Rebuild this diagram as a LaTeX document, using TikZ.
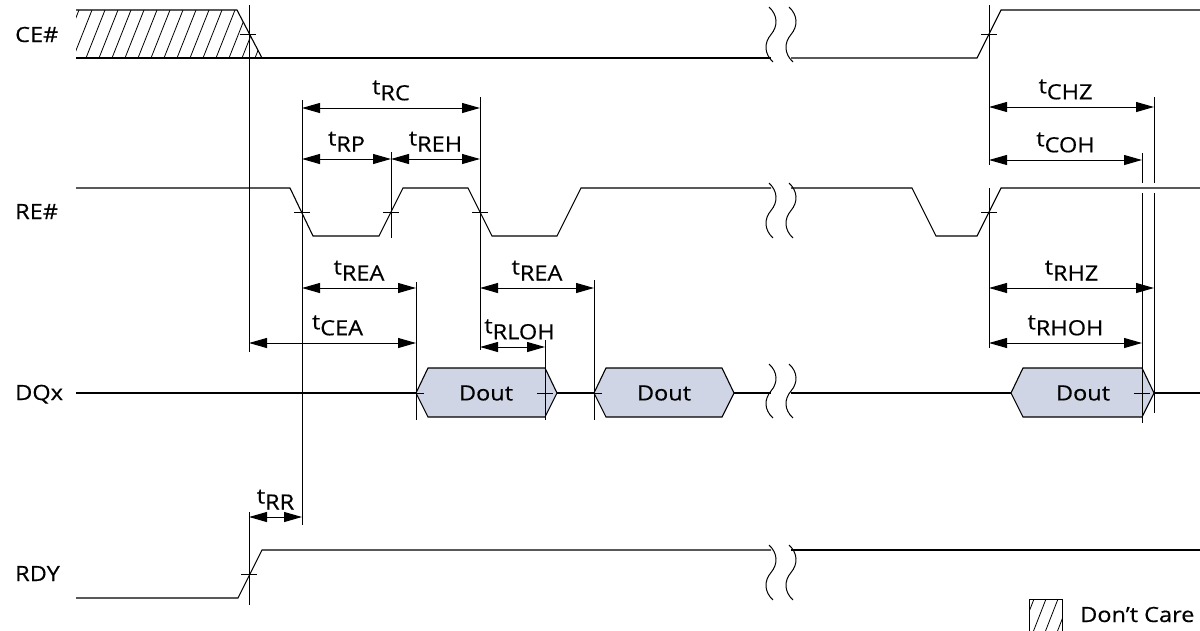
\documentclass[tikz,border=0pt]{standalone}
\usepackage{fontspec}
\setmainfont{Open Sans}[FakeStretch=1.12, FakeBold=0.4]
\usetikzlibrary{arrows.meta}

\definecolor{doutfill}{RGB}{208,213,229}

% Zeit-Bezeichner mit tiefgestelltem Index
\newcommand{\tsub}[1]{t\raisebox{-6pt}{#1}}
% Unterbrechung (zwei Wellenlinien) zwischen oben #1 und unten #2
\newcommand{\wavebreak}[2]{%
  \foreach \bx in {771,791} {%
    \draw [vline] ( \bx-2, #1 ) .. controls ( \bx+7, {#1+0.15*(#2-#1)} ) and ( \bx+7, {#1+0.35*(#2-#1)} ) .. ( \bx, {(#1+#2)/2} )
      .. controls ( \bx-7, {#1+0.65*(#2-#1)} ) and ( \bx-7, {#1+0.85*(#2-#1)} ) .. ( \bx+2, #2 );
  }}

\tikzset{
  sig/.style={line width=1.1pt, line join=miter},
  vline/.style={line width=1pt},
  hatch/.style={line width=0.8pt},
  dim/.style={line width=1pt, {Triangle[length=18pt,width=10pt]}-{Triangle[length=18pt,width=10pt]}},
  tlab/.style={above=7pt, inner sep=0pt, font=\fontsize{21}{23}\selectfont},
  siglab/.style={anchor=base west, inner sep=0pt, font=\fontsize{21}{23}\selectfont},
  dout/.style={sig, fill=doutfill},
  doutlab/.style={inner sep=0pt, font=\fontsize{21}{23}\selectfont}
}

\begin{document}
\begin{tikzpicture}[x=1pt, y=-1pt]
\useasboundingbox ( 0, 0 ) rectangle ( 1200, 630 );

% Signalnamen
\node [siglab] (ce) at ( 15, 42 ) {CE\#};
\node [siglab] (re) at ( 15, 219 ) {RE\#};
\node [siglab] (dq) at ( 15, 400 ) {DQx};
\node [siglab] (rdy) at ( 15, 581 ) {RDY};

% CE# mit Don't-Care-Bereich
\begin{scope}
  \clip ( 76, 10 ) -- ( 237, 10 ) -- ( 262, 58 ) -- ( 76, 58 ) -- cycle;
  \foreach \h in {60,73,...,275}
    \draw [hatch] ( \h, 58 ) -- ( \h+19, 10 );
\end{scope}
\draw [sig] ( 76, 10 ) -- ( 237, 10 ) -- ( 262, 58 );
\draw [sig] ( 76, 58 ) -- ( 771, 58 );
\draw [sig] ( 791, 58 ) -- ( 977, 58 ) -- ( 1001, 10 ) -- ( 1200, 10 );
\wavebreak{7}{62}

% RE#
\draw [sig] ( 76, 188 ) -- ( 290, 188 ) -- ( 313, 236 ) -- ( 379, 236 ) -- ( 403, 188 ) -- ( 468, 188 )
  -- ( 492, 236 ) -- ( 557, 236 ) -- ( 581, 188 ) -- ( 771, 188 );
\draw [sig] ( 791, 188 ) -- ( 912, 188 ) -- ( 936, 236 ) -- ( 977, 236 ) -- ( 1001, 188 ) -- ( 1200, 188 );
\wavebreak{183}{238}

% DQx
\draw [dout] ( 416, 393 ) -- ( 428, 368 ) -- ( 545, 368 ) -- ( 557, 393 ) -- ( 545, 417 ) -- ( 428, 417 ) -- cycle;
\draw [dout] ( 594, 393 ) -- ( 606, 368 ) -- ( 722, 368 ) -- ( 734, 393 ) -- ( 722, 417 ) -- ( 606, 417 ) -- cycle;
\draw [dout] ( 1011, 393 ) -- ( 1023, 368 ) -- ( 1142, 368 ) -- ( 1154, 393 ) -- ( 1142, 417 ) -- ( 1023, 417 ) -- cycle;
\node [doutlab] (dout1) at ( 486, 393 ) {Dout};
\node [doutlab] (dout2) at ( 664, 393 ) {Dout};
\node [doutlab] (dout3) at ( 1083, 393 ) {Dout};
\draw [sig] ( 76, 393 ) -- ( 416, 393 );
\draw [sig] ( 557, 393 ) -- ( 594, 393 );
\draw [sig] ( 734, 393 ) -- ( 771, 393 );
\draw [sig] ( 791, 393 ) -- ( 1011, 393 );
\draw [sig] ( 1154, 393 ) -- ( 1200, 393 );
\wavebreak{364}{418}

% RDY
\draw [sig] ( 76, 598 ) -- ( 238, 598 ) -- ( 262, 550 ) -- ( 771, 550 );
\draw [sig] ( 791, 550 ) -- ( 1200, 550 );
\wavebreak{545}{600}

% Bezugslinien
\draw [vline] ( 249, 5 ) -- ( 249, 352 );
\draw [vline] ( 249, 512 ) -- ( 249, 605 );
\draw [vline] ( 302, 100 ) -- ( 302, 525 );
\draw [vline] ( 391, 152 ) -- ( 391, 238 );
\draw [vline] ( 480, 97 ) -- ( 480, 350 );
\draw [vline] ( 416, 282 ) -- ( 416, 420 );
\draw [vline] ( 545, 340 ) -- ( 545, 420 );
\draw [vline] ( 594, 280 ) -- ( 594, 420 );
\draw [vline] ( 989, 5 ) -- ( 989, 165 );
\draw [vline] ( 989, 188 ) -- ( 989, 348 );
\draw [vline] ( 1142, 153 ) -- ( 1142, 183 ) ( 1142, 193 ) -- ( 1142, 423 );
\draw [vline] ( 1154, 97 ) -- ( 1154, 183 ) ( 1154, 193 ) -- ( 1154, 413 );

% Kreuzungsmarken
\foreach \x/\y in {248/34, 989/34, 302/212, 391/212, 480/212, 989/212, 249/574, 416/393, 545/393, 594/393, 1142/393}
  \draw [vline] ( \x-8, \y ) -- ( \x+8, \y );

% Zeiten
\draw [dim] ( 302, 108 ) -- node [tlab] (trc) {\tsub{RC}} ( 480, 108 );
\draw [dim] ( 302, 159 ) -- node [tlab] (trp) {\tsub{RP}} ( 391, 159 );
\draw [dim] ( 391, 159 ) -- node [tlab] (treh) {\tsub{REH}} ( 480, 159 );
\draw [dim] ( 302, 288 ) -- node [tlab] (trea1) {\tsub{REA}} ( 416, 288 );
\draw [dim] ( 249, 343 ) -- node [tlab, xshift=5pt] (tcea) {\tsub{CEA}} ( 416, 343 );
\draw [dim] ( 480, 288 ) -- node [tlab] (trea2) {\tsub{REA}} ( 594, 288 );
\draw [dim] ( 480, 347 ) -- node [tlab, xshift=7pt] (trloh) {\tsub{RLOH}} ( 545, 347 );
\draw [dim] ( 249, 517 ) -- node [tlab] (trr) {\tsub{RR}} ( 302, 517 );
\draw [dim] ( 989, 107 ) -- node [tlab, xshift=-6pt] (tchz) {\tsub{CHZ}} ( 1154, 107 );
\draw [dim] ( 989, 160 ) -- node [tlab] (tcoh) {\tsub{COH}} ( 1142, 160 );
\draw [dim] ( 989, 288 ) -- node [tlab] (trhz) {\tsub{RHZ}} ( 1154, 288 );
\draw [dim] ( 989, 343 ) -- node [tlab] (trhoh) {\tsub{RHOH}} ( 1142, 343 );

% Legende
\begin{scope}
  \clip ( 1029, 599 ) rectangle ( 1062, 640 );
  \foreach \h in {1018,1030,...,1066}
    \draw [hatch] ( \h, 640 ) -- ( \h+16, 599 );
\end{scope}
\draw [vline] ( 1029, 640 ) -- ( 1029, 599 ) -- ( 1062, 599 ) -- ( 1062, 640 );
\node [siglab] (dc) at ( 1080, 622 ) {Don’t Care};
\end{tikzpicture}
\end{document}
